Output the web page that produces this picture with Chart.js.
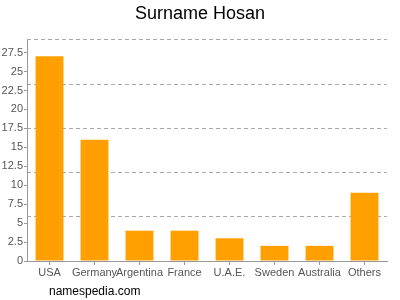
<!DOCTYPE html>
<html><head><meta charset="utf-8">
<script src="https://cdn.jsdelivr.net/npm/chart.js@4/dist/chart.umd.min.js"></script>
<style>html,body{margin:0;padding:0;background:#fff}#wrap{width:400px;height:300px}</style>
</head><body><div id="wrap"><canvas id="c" width="400" height="300"></canvas></div>
<script>
const categories = ["USA","Germany","Argentina","France","U.A.E.","Sweden","Australia","Others"];
const counts = [27,16,4,4,3,2,2,9];
const yTickStep = 2.5;
const yMax = 29.16;
const FONT = "'Liberation Sans', Arial, sans-serif";

const footer = {
  id:'footer',
  afterDraw(chart){
    const ctx = chart.ctx;
    ctx.save();
    ctx.font = "12px " + FONT;
    ctx.fillStyle = '#000';
    ctx.textBaseline = 'middle';
    ctx.fillText('namespedia.com', 49, 292);
    ctx.restore();
  }
};

new Chart(document.getElementById('c'), {
  type:'bar',
  data:{labels:categories, datasets:[{data:counts, backgroundColor:'#ffa000', borderWidth:0, categoryPercentage:1, barPercentage:0.62}]},
  options:{
    responsive:false, animation:false,
    layout:{padding:0},
    plugins:{
      legend:{display:false}, tooltip:{enabled:false},
      title:{display:true, text:'Surname Hosan', color:'#000', font:{family:FONT, size:18, weight:'normal'}, padding:{top:3,bottom:15.4}}
    },
    scales:{
      x:{
        grid:{drawOnChartArea:false, offset:false, tickLength:4, color:'#999'},
        border:{color:'#999'},
        ticks:{color:'#555', font:{family:FONT,size:11}, autoSkip:false, maxRotation:0, padding:1},
        afterFit(s){ s.height = 39; }
      },
      y:{
        min:0, max:yMax,
        grid:{drawOnChartArea:false, tickLength:3, color:'#999'},
        border:{color:'#999'},
        ticks:{color:'#555', font:{family:FONT,size:11}, stepSize:yTickStep, padding:1},
        afterBuildTicks(s){ const t=[]; for(let v=0; v<=yMax; v+=yTickStep) t.push({value:v}); s.ticks=t; },
        afterFit(s){ s.width = 27; }
      },
      y2:{
        position:'left', min:0, max:yMax,
        grid:{drawTicks:false, color:'#aaa'},
        border:{display:false, dash:[4,3]},
        ticks:{display:false},
        afterBuildTicks(s){ s.ticks=[1,2,3,4,5].map(i=>({value:i*yMax/5})); },
        afterFit(s){ s.width = 0; }
      },
      yR:{
        position:'right', min:0, max:yMax,
        grid:{display:false}, border:{display:false},
        ticks:{display:false},
        afterFit(s){ s.width = 13; }
      }
    }
  },
  plugins:[footer]
});
</script></body></html>
